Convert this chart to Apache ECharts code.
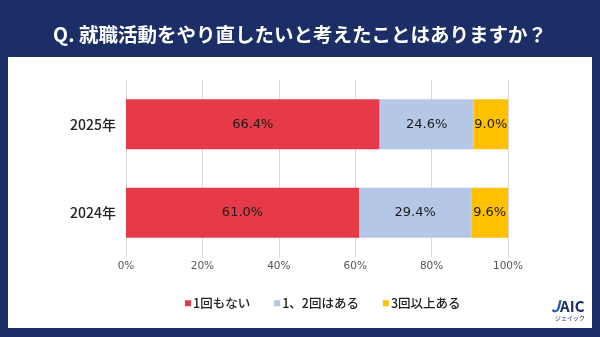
<!DOCTYPE html>
<html><head><meta charset="utf-8">
<script src="https://cdn.jsdelivr.net/npm/echarts@6/dist/echarts.min.js"></script>
<style>html,body{margin:0;padding:0;background:#1b2f66;}#c{width:600px;height:337px;}</style>
</head><body><div id="c"></div>
<script>
const categories = ['2024年', '2025年'];
const seriesNames = ['1回もない', '1、2回はある', '3回以上ある'];
const never = [61.0, 66.4];
const onceTwice = [29.4, 24.6];
const threePlus = [9.6, 9.0];
const tickLabels = ['0%', '20%', '40%', '60%', '80%', '100%'];
const colors = ['#e63a48', '#b4c7e7', '#ffc000'];
const font = '"Noto Sans CJK JP", "Noto Sans", sans-serif';
const numFont = '"DejaVu Sans", sans-serif';

const chart = echarts.init(document.getElementById('c'));
const values = [never, onceTwice, threePlus];
chart.setOption({
  backgroundColor: '#1b2f66',
  animation: false,
  graphic: [
    {type: 'rect', shape: {x: 8, y: 57, width: 584, height: 271}, style: {fill: '#ffffff'}, z: -10},
    {type: 'text', left: 551, top: 298, style: {
      text: '{j|J}{a|AIC}', rich: {
        j: {fill: '#2b5cb5', font: 'italic bold 16px ' + font},
        a: {fill: '#1b2f66', font: 'bold 15px ' + font}
      }}},
    {type: 'text', left: 555, top: 315, style: {text: 'ジェイック', fill: '#1b2f66', font: '6px ' + font}}
  ],
  title: {
    text: 'Q. 就職活動をやり直したいと考えたことはありますか？',
    left: 'center', top: 20,
    textStyle: {color: '#ffffff', fontSize: 19.5, fontWeight: 'bold', fontFamily: font}
  },
  legend: {
    data: seriesNames, left: 180, top: 292, itemWidth: 6, itemHeight: 6, itemGap: 24,
    icon: 'rect',
    textStyle: {color: '#222', fontSize: 12.5, fontWeight: 500, fontFamily: font, padding: [0, 0, 0, -3]}
  },
  grid: {left: 126, right: 92, top: 80, bottom: 80},
  xAxis: {
    type: 'value', min: 0, max: 100, interval: 20,
    axisLabel: {formatter: v => tickLabels[v / 20], color: '#555', fontSize: 10.5, fontFamily: numFont, margin: 4},
    splitLine: {lineStyle: {color: '#d9d9d9'}},
    axisLine: {show: false}, axisTick: {show: false}
  },
  yAxis: {
    type: 'category', data: categories,
    axisLabel: {color: '#222', fontSize: 14, fontFamily: font, fontWeight: 500, margin: 10},
    axisLine: {show: true, lineStyle: {color: '#d9d9d9'}}, axisTick: {show: false}
  },
  series: seriesNames.map((n, i) => ({
    name: n, type: 'bar', stack: 'total', barWidth: 50,
    data: values[i],
    itemStyle: {color: colors[i]},
    label: {show: true, position: 'inside', formatter: p => p.value.toFixed(1) + '%',
      color: '#1a1a1a', fontSize: 13, fontFamily: numFont}
  }))
});
</script></body></html>
